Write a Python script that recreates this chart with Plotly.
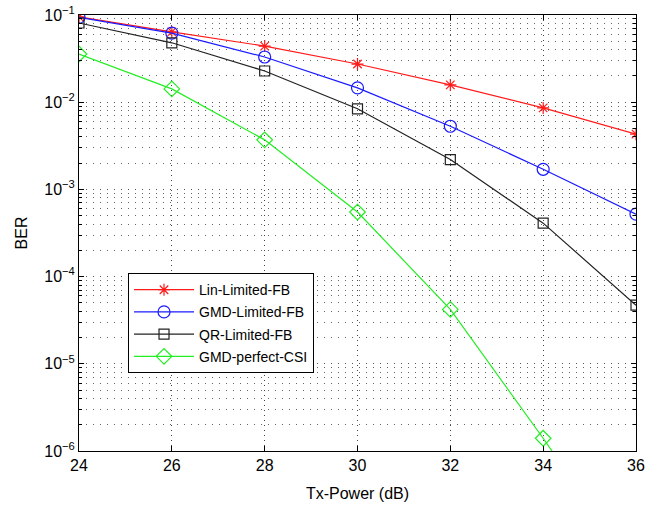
import plotly.graph_objects as go

tx_power = [24, 26, 28, 30, 32, 34, 36]
lin_limited_fb = [0.095, 0.064, 0.044, 0.0274, 0.0158, 0.0086, 0.0043]
gmd_limited_fb = [0.094, 0.062, 0.033, 0.0146, 0.0053, 0.0017, 0.00052]
qr_limited_fb = [0.081, 0.048, 0.0228, 0.0084, 0.0022, 0.00041, 4.7e-5]
gmd_perfect_csi = [0.0357, 0.0142, 0.0037, 0.00055, 4.2e-5, 1.4e-6, 4e-8]

y_tick_vals = [1e-6, 1e-5, 1e-4, 1e-3, 1e-2, 1e-1]
y_tick_text = ["10<sup>−6</sup>", "10<sup>−5</sup>", "10<sup>−4</sup>",
               "10<sup>−3</sup>", "10<sup>−2</sup>", "10<sup>−1</sup>"]
x_tick_vals = [24, 26, 28, 30, 32, 34, 36]

series = [
    ("Lin-Limited-FB", lin_limited_fb, "#ff1a1a", "asterisk-open", 10),
    ("GMD-Limited-FB", gmd_limited_fb, "#1a1aff", "circle-open", 12),
    ("QR-Limited-FB", qr_limited_fb, "#222222", "square-open", 10),
    ("GMD-perfect-CSI", gmd_perfect_csi, "#22ee22", "diamond-open", 12),
]

fig = go.Figure()
for i, (name, vals, color, sym, size) in enumerate(series):
    fig.add_trace(go.Scatter(
        x=tx_power, y=vals, name=name, mode="lines+markers",
        legendgroup=f"g{i}",
        line=dict(color=color, width=1.2),
        marker=dict(symbol=sym, size=size, color=color, line=dict(color=color, width=1.2)),
        cliponaxis=True,
    ))

font = "Liberation Sans, Arial, Helvetica, sans-serif"
grid_dash = "1px,6px"
fig.update_layout(
    width=663, height=508,
    margin=dict(l=79, r=27, t=15, b=57),
    paper_bgcolor="white", plot_bgcolor="white",
    font=dict(family=font, size=16, color="black"),
    showlegend=True,
    legend=dict(
        x=0.088, y=0.408, xanchor="left", yanchor="top",
        bgcolor="white", bordercolor="black", borderwidth=1,
        font=dict(family=font, size=14, color="black"),
        itemwidth=60, tracegroupgap=1,
    ),
    xaxis=dict(
        range=[24, 36], tickmode="array", tickvals=x_tick_vals,
        showline=True, linecolor="black", linewidth=1, mirror="allticks",
        ticks="inside", ticklen=5, tickcolor="black",
        showgrid=True, gridcolor="#444444", griddash="1px,4px", gridwidth=1,
        zeroline=False, automargin=False,
        title=dict(text="Tx-Power (dB)", font=dict(size=16), standoff=14),
        tickfont=dict(size=16),
    ),
    yaxis=dict(
        type="log", range=[-6, -1], tickmode="array",
        tickvals=y_tick_vals, ticktext=y_tick_text,
        showline=True, linecolor="black", linewidth=1, mirror="allticks",
        ticks="inside", ticklen=5, tickcolor="black",
        showgrid=True, gridcolor="#555555", griddash=grid_dash, gridwidth=1,
        zeroline=False, automargin=False, ticklabeloverflow="allow",
        minor=dict(dtick="D1", showgrid=True, gridcolor="#666666",
                   griddash=grid_dash, ticks="inside", ticklen=3, tickcolor="black"),
        title=dict(text="BER", font=dict(size=16), standoff=12),
        tickfont=dict(size=16),
    ),
)

fig.write_html("out.html", config={"displayModeBar": False},
               post_script="document.body.style.margin='0';")
